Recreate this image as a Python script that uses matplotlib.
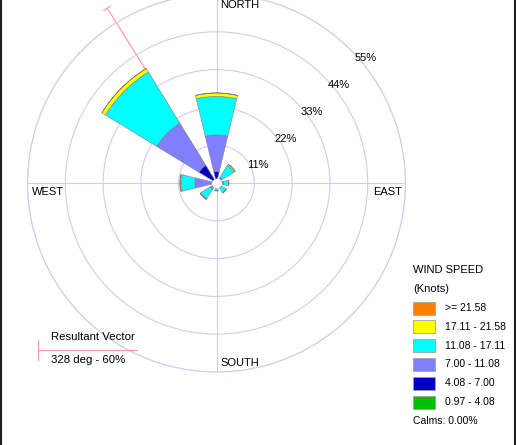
import numpy as np
import matplotlib.pyplot as plt

plt.rcParams['font.family'] = ['Liberation Sans', 'DejaVu Sans']

# wind directions (deg, clockwise from north)
directions = [0, 45, 90, 135, 180, 225, 270, 315]

# frequency (%) per speed class, for each direction
calm_to_4 = [0.3, 0.2, 0.2, 0.2, 0.2, 0.2, 0.3, 0.4]      # 0.97 - 4.08
spd_4_7 = [3.0, 0.3, 0.4, 0.4, 0.3, 0.4, 0.6, 5.6]        # 4.08 - 7.00
spd_7_11 = [10.7, 1.5, 1.4, 1.2, 0.9, 1.6, 5.4, 14.4]     # 7.00 - 11.08
spd_11_17 = [11.2, 4.0, 1.5, 1.5, 0.8, 3.2, 3.9, 17.5]    # 11.08 - 17.11
spd_17_21 = [1.0, 0.4, 0.1, 0.1, 0.1, 0.2, 0.3, 1.2]      # 17.11 - 21.58
spd_21_up = [0.0, 0.0, 0.0, 0.0, 0.0, 0.0, 0.2, 0.0]      # >= 21.58

class_labels = ['>= 21.58', '17.11 - 21.58', '11.08 - 17.11',
                '7.00 - 11.08', '4.08 - 7.00', '0.97 - 4.08']
class_colors = ['#ff8000', '#ffff00', '#00ffff', '#8080ff', '#0000c0', '#00c000']

ring_values = [11, 22, 33, 44, 55]
result_dir = 328
result_pct = 60
calms = 0.00

W, H = 516, 445
cx, cy, R = 216.5, 183, 189   # rose centre and outer ring radius (pixels)
grid_col = '#cdcdf0'
vec_col = '#ff9696'

fig = plt.figure(figsize=(W / 100, H / 100), dpi=100)
ax = fig.add_axes([(cx - R) / W, (H - cy - R) / H, 2 * R / W, 2 * R / H],
                  projection='polar')
ax.set_theta_zero_location('N')
ax.set_theta_direction(-1)
ax.set_ylim(0, ring_values[-1])
ax.set_yticks(ring_values)
ax.set_yticklabels([])
ax.set_xticks(np.deg2rad([0, 90, 180, 270]))
ax.set_xticklabels([])
ax.grid(True, color=grid_col, linewidth=0.8)
ax.spines['polar'].set_color(grid_col)
ax.spines['polar'].set_linewidth(0.8)
ax.patch.set_alpha(0)
ax.set_axisbelow(True)

theta = np.deg2rad(directions)
stack = [calm_to_4, spd_4_7, spd_7_11, spd_11_17, spd_17_21, spd_21_up]
bottom = np.zeros(len(directions))
for vals, col in zip(stack, class_colors[::-1]):
    vals = np.array(vals)
    ax.bar(theta, vals, width=np.deg2rad(27), bottom=bottom, color=col,
           edgecolor='#808080', linewidth=0.4, zorder=3)
    bottom = bottom + vals

# small calm circle in the middle
circ = np.linspace(0, 2 * np.pi, 100)
ax.fill_between(circ, 0, 1.2, color='white', zorder=4)

# resultant vector
th = np.deg2rad(result_dir)
ax.plot([th, th], [0, result_pct], color=vec_col, linewidth=0.8,
        zorder=2, clip_on=False)
d = np.arctan(1.2 / result_pct)
ax.plot([th - d, th + d], [result_pct, result_pct], color=vec_col,
        linewidth=0.8, zorder=2, clip_on=False)

# ring labels
for v in ring_values:
    ax.annotate(f'{v}%', xy=(np.deg2rad(45), v), xytext=(4, -9),
                textcoords='offset pixels', ha='left', va='center',
                fontsize=8, annotation_clip=False)

# compass labels
top = ring_values[-1]
for name, ang, off, ha in [('NORTH', 0, (3.5, -10.5), 'left'),
                           ('EAST', 90, (-3, -9), 'right'),
                           ('SOUTH', 180, (3.5, 8.5), 'left'),
                           ('WEST', 270, (4, -9), 'left')]:
    ax.annotate(name, xy=(np.deg2rad(ang), top), xytext=off,
                textcoords='offset pixels', ha=ha, va='center',
                fontsize=8, annotation_clip=False)


def fx(x):
    return x / W


def fy(y):
    return 1 - y / H


# legend
fig.text(fx(413), fy(270), 'WIND SPEED', fontsize=8, va='center')
fig.text(fx(413), fy(289), '(Knots)', fontsize=8, va='center')
for i, (lab, col) in enumerate(zip(class_labels, class_colors)):
    yc = 308 + i * 18.8
    fig.patches.append(plt.Rectangle((fx(413), fy(yc + 6.5)), 22 / W, 13 / H,
                                     transform=fig.transFigure,
                                     facecolor=col, edgecolor='#a0a0a0',
                                     linewidth=0.6))
    fig.text(fx(445), fy(yc), lab, fontsize=7.5, va='center')
fig.text(fx(413), fy(421), f'Calms: {calms:.2f}%', fontsize=7.5, va='center')

# resultant vector key
fig.lines.append(plt.Line2D([fx(38), fx(137)], [fy(350), fy(350)],
                            transform=fig.transFigure, color=vec_col,
                            linewidth=0.8))
fig.lines.append(plt.Line2D([fx(38), fx(38)], [fy(340), fy(360)],
                            transform=fig.transFigure, color=vec_col,
                            linewidth=0.8))
fig.text(fx(51), fy(337), 'Resultant Vector', fontsize=8.2, va='center')
fig.text(fx(51), fy(360), f'{result_dir} deg - {result_pct}%',
         fontsize=8.2, va='center')

# dark side borders
fig.lines.append(plt.Line2D([fx(0.8), fx(0.8)], [0, 1],
                            transform=fig.transFigure, color='#1a2020',
                            linewidth=1.5))
fig.lines.append(plt.Line2D([fx(515), fx(515)], [0, 1],
                            transform=fig.transFigure, color='#1a2020',
                            linewidth=1.5))

fig.savefig('out.png', dpi=100)
